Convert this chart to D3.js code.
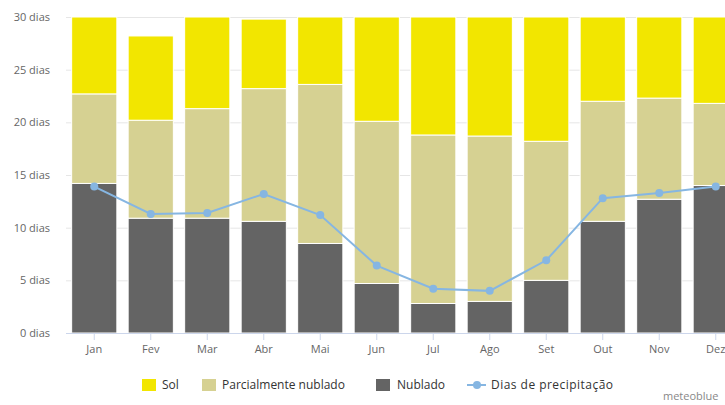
<!DOCTYPE html>
<html>
<head>
<meta charset="utf-8">
<script src="https://cdn.jsdelivr.net/npm/d3@7"></script>
<style>
  body { margin: 0; background: #fff; overflow: hidden; }
  svg { display: block; font-family: 'Open Sans', 'DejaVu Sans', sans-serif; }
</style>
</head>
<body>
<div id="chart"></div>
<script>
'use strict';

var months = ['Jan', 'Fev', 'Mar', 'Abr', 'Mai', 'Jun', 'Jul', 'Ago', 'Set', 'Out', 'Nov', 'Dez'];
var nublado = [14.2, 10.9, 10.9, 10.6, 8.5, 4.7, 2.8, 3.0, 5.0, 10.6, 12.7, 14.0];
var parcial = [8.5, 9.3, 10.4, 12.6, 15.1, 15.4, 16.0, 15.7, 13.2, 11.4, 9.6, 7.8];
var sol = [7.3, 8.0, 8.7, 6.6, 6.4, 9.9, 11.2, 11.3, 11.8, 8.0, 7.7, 8.2];
var precip = [13.9, 11.3, 11.4, 13.2, 11.2, 6.4, 4.2, 4.0, 6.9, 12.8, 13.3, 13.9];
var yTicks = [0, 5, 10, 15, 20, 25, 30];

var width = 725, height = 405;
var plot = { left: 66, right: 744, top: 17, bottom: 333 };
var lineColor = '#86b6e2';

var series = [
    { name: 'Nublado', values: nublado, color: '#646464' },
    { name: 'Parcialmente nublado', values: parcial, color: '#d6d192' },
    { name: 'Sol', values: sol, color: '#f2e600' }
];

var svg = d3.select('#chart').append('svg')
    .attr('width', width)
    .attr('height', height);

var x = d3.scaleBand()
    .domain(months)
    .range([plot.left, plot.right])
    .paddingInner(0.2)
    .paddingOuter(0.1);

var y = d3.scaleLinear()
    .domain([0, 30])
    .range([plot.bottom, plot.top]);

function mid(m) {
    return x(m) + x.bandwidth() / 2;
}

// gridlines
svg.append('g').selectAll('line')
    .data(yTicks.slice(1))
    .enter().append('line')
    .attr('x1', plot.left)
    .attr('x2', width)
    .attr('y1', function (d) { return y(d) + 0.5; })
    .attr('y2', function (d) { return y(d) + 0.5; })
    .attr('stroke', '#e6e6e6');

// y labels
svg.append('g').selectAll('text')
    .data(yTicks)
    .enter().append('text')
    .attr('x', 50)
    .attr('y', function (d) { return y(d) + 4; })
    .attr('text-anchor', 'end')
    .attr('font-size', '11px')
    .attr('fill', '#666')
    .text(function (d) { return d + ' dias'; });

// stacked bars, bottom to top
var base = months.map(function () { return 0; });
series.forEach(function (s) {
    svg.append('g').selectAll('rect')
        .data(s.values)
        .enter().append('rect')
        .attr('x', function (d, i) { return x(months[i]); })
        .attr('width', x.bandwidth())
        .attr('y', function (d, i) { return y(base[i] + d); })
        .attr('height', function (d, i) { return y(base[i]) - y(base[i] + d); })
        .attr('fill', s.color)
        .attr('stroke', '#fff')
        .attr('stroke-width', 1);
    s.values.forEach(function (d, i) { base[i] += d; });
});

// x axis
var xAxis = svg.append('g');
xAxis.append('line')
    .attr('x1', plot.left).attr('x2', width)
    .attr('y1', plot.bottom + 0.5).attr('y2', plot.bottom + 0.5)
    .attr('stroke', '#ccd6eb');
xAxis.selectAll('.tick')
    .data(months)
    .enter().append('line')
    .attr('x1', mid)
    .attr('x2', mid)
    .attr('y1', plot.bottom)
    .attr('y2', plot.bottom + 7)
    .attr('stroke', '#ccd6eb');
xAxis.selectAll('text')
    .data(months)
    .enter().append('text')
    .attr('x', mid)
    .attr('y', 353)
    .attr('text-anchor', 'middle')
    .attr('font-size', '11px')
    .attr('fill', '#666')
    .text(function (d) { return d; });

// precipitation days
var line = d3.line()
    .x(function (d, i) { return mid(months[i]); })
    .y(function (d) { return y(d); });

svg.append('path')
    .datum(precip)
    .attr('d', line)
    .attr('fill', 'none')
    .attr('stroke', lineColor)
    .attr('stroke-width', 2);

svg.append('g').selectAll('circle')
    .data(precip)
    .enter().append('circle')
    .attr('cx', function (d, i) { return mid(months[i]); })
    .attr('cy', function (d) { return y(d); })
    .attr('r', 4)
    .attr('fill', lineColor);

// legend
var legend = svg.append('g').attr('font-size', '12px').attr('fill', '#333');
var legendItems = [
    { name: 'Sol', color: '#f2e600', x: 142, tx: 162 },
    { name: 'Parcialmente nublado', color: '#d6d192', x: 202, tx: 222 },
    { name: 'Nublado', color: '#646464', x: 376, tx: 397 }
];
legendItems.forEach(function (item) {
    legend.append('rect')
        .attr('x', item.x).attr('y', 379)
        .attr('width', 14).attr('height', 12)
        .attr('fill', item.color);
    legend.append('text')
        .attr('x', item.tx).attr('y', 389)
        .text(item.name);
});
legend.append('line')
    .attr('x1', 467).attr('x2', 486)
    .attr('y1', 385).attr('y2', 385)
    .attr('stroke', lineColor).attr('stroke-width', 2);
legend.append('circle')
    .attr('cx', 477).attr('cy', 385).attr('r', 4)
    .attr('fill', lineColor);
legend.append('text')
    .attr('x', 491).attr('y', 389)
    .attr('textLength', 122)
    .text('Dias de precipitação');

// credits
svg.append('text')
    .attr('x', 663).attr('y', 400)
    .attr('font-size', '11px')
    .attr('fill', '#888')
    .text('meteoblue');
</script>
</body>
</html>
